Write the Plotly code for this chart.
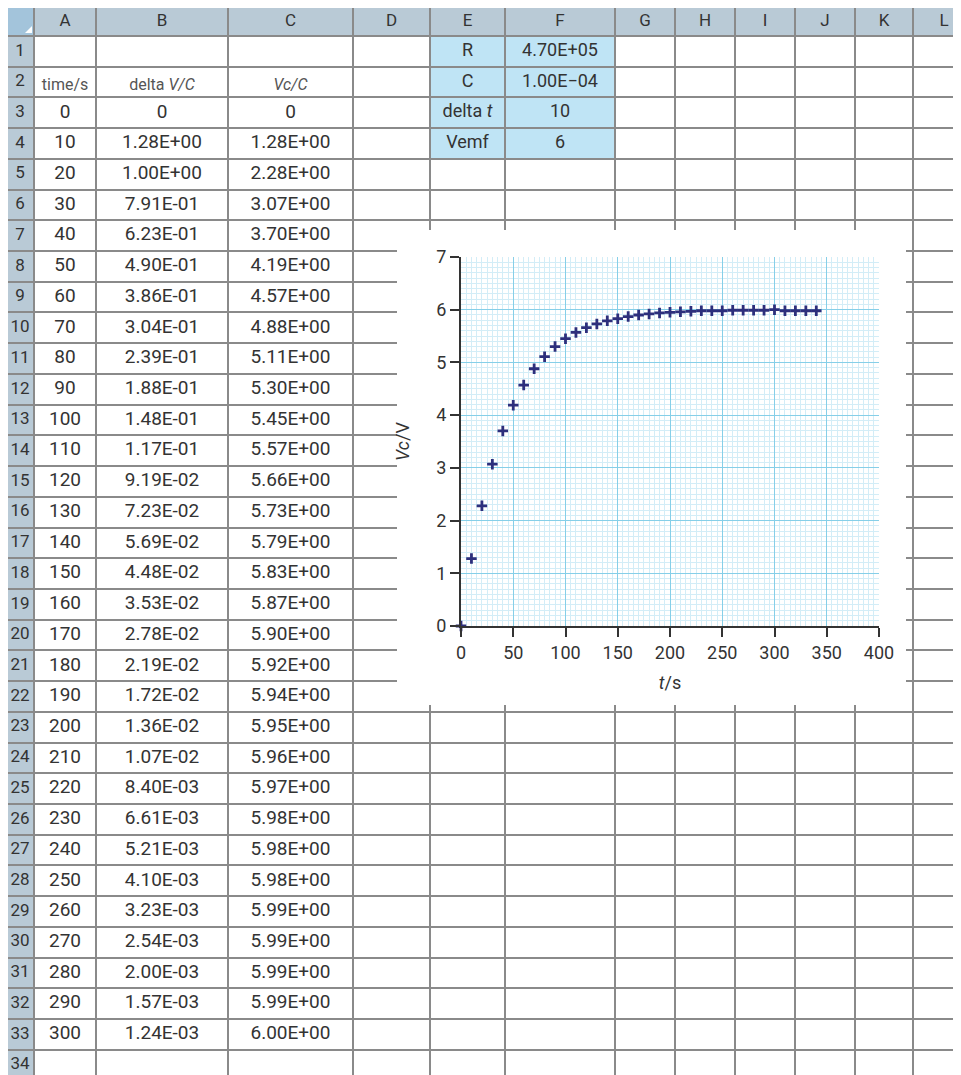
import plotly.graph_objects as go

# ---------------- data ----------------
col_letters = ["A", "B", "C", "D", "E", "F", "G", "H", "I", "J", "K", "L"]
header_labels = ["time/s", "delta <i>V/C</i>", "<i>Vc/C</i>"]

time_s = [0, 10, 20, 30, 40, 50, 60, 70, 80, 90, 100, 110, 120, 130, 140, 150,
          160, 170, 180, 190, 200, 210, 220, 230, 240, 250, 260, 270, 280, 290,
          300, 310, 320, 330, 340]
delta_v = [0, 1.28, 1.00, 0.791, 0.623, 0.490, 0.386, 0.304, 0.239, 0.188,
           0.148, 0.117, 0.0919, 0.0723, 0.0569, 0.0448, 0.0353, 0.0278,
           0.0219, 0.0172, 0.0136, 0.0107, 0.00840, 0.00661, 0.00521, 0.00410,
           0.00323, 0.00254, 0.00200, 0.00157, 0.00124]
vc = [0, 1.28, 2.28, 3.07, 3.70, 4.19, 4.57, 4.88, 5.11, 5.30, 5.45, 5.57,
      5.66, 5.73, 5.79, 5.83, 5.87, 5.90, 5.92, 5.94, 5.95, 5.96, 5.97, 5.98,
      5.98, 5.98, 5.99, 5.99, 5.99, 5.99, 6.00, 5.98, 5.98, 5.98, 5.98]
n_table_rows = 31          # rows 3..33 of the sheet show time 0..300

param_names = ["R", "C", "delta <i>t</i>", "Vemf"]
param_values = ["4.70E+05", "1.00E\u221204", "10", "6"]

# ---------------- geometry (layout, in window pixels) ----------------
WIN_W, WIN_H = 961, 1075
BODY = 8                              # page margin around the plot div
W, H = WIN_W - BODY, WIN_H - BODY     # figure size
SHEET_L, SHEET_T = BODY, BODY
col_edges = [SHEET_L, 34, 96, 228, 353, 430, 505, 615, 675, 735, 795, 855, 913, 975]
HDR_B = 36
ROW_H = 30.72
N_ROWS = 34
row_edges = [HDR_B + k * ROW_H for k in range(N_ROWS + 1)]

FONT = "Roboto"
GRID = "#8a8a8a"
HDR_FILL = "#b9cad6"
BLUE_FILL = "#bfe4f5"
TXT = "#333333"


def ccx(i):  # centre of sheet column i (0 = row-number column)
    return (col_edges[i] + col_edges[i + 1]) / 2


def rcy(r):  # centre of sheet row r (1-based)
    return HDR_B + (r - 0.5) * ROW_H


def fmt(v):
    return "0" if v == 0 else f"{v:.2E}"


def px_x(p):  # window x pixel -> paper fraction
    return (p - BODY) / W


def px_y(p):  # window y pixel -> paper fraction
    return 1 - (p - BODY) / H


fig = go.Figure()

# column letters
fig.add_trace(go.Scatter(
    x=[ccx(i + 1) for i in range(len(col_letters))],
    y=[(5 + HDR_B) / 2 + 1] * len(col_letters),
    text=col_letters, mode="text", textposition="middle center",
    textfont=dict(family=FONT, size=17, color=TXT),
    hoverinfo="skip", showlegend=False, xaxis="x", yaxis="y"))

# row numbers
rows = list(range(1, N_ROWS + 1))
fig.add_trace(go.Scatter(
    x=[ccx(0) - 1] * len(rows), y=[rcy(r) for r in rows],
    text=[str(r) for r in rows], mode="text", textposition="middle center",
    textfont=dict(family=FONT, size=17, color=TXT),
    hoverinfo="skip", showlegend=False, xaxis="x", yaxis="y"))

# header row 2
fig.add_trace(go.Scatter(
    x=[ccx(1), ccx(2), ccx(3)], y=[rcy(2) + 4] * 3,
    text=header_labels, mode="text", textposition="middle center",
    textfont=dict(family=FONT, size=16, color="#555555"),
    hoverinfo="skip", showlegend=False, xaxis="x", yaxis="y"))

# table body
tx, ty, tt = [], [], []
for k in range(n_table_rows):
    r = 3 + k
    tx += [ccx(1), ccx(2), ccx(3)]
    ty += [rcy(r)] * 3
    tt += [str(time_s[k]), fmt(delta_v[k]), fmt(vc[k])]
fig.add_trace(go.Scatter(
    x=tx, y=ty, text=tt, mode="text", textposition="middle center",
    textfont=dict(family=FONT, size=19, color=TXT),
    hoverinfo="skip", showlegend=False, xaxis="x", yaxis="y"))

# parameter block E1:F4
fig.add_trace(go.Scatter(
    x=[ccx(5)] * 4 + [ccx(6)] * 4,
    y=[rcy(r) for r in range(1, 5)] * 2,
    text=param_names + param_values, mode="text", textposition="middle center",
    textfont=dict(family=FONT, size=18, color=TXT),
    hoverinfo="skip", showlegend=False, xaxis="x", yaxis="y"))

# ---------------- chart ----------------
fig.add_trace(go.Scatter(
    x=time_s, y=vc, mode="markers", cliponaxis=False,
    marker=dict(symbol="cross-thin", size=7.5, color="#2d2f7c",
                line=dict(color="#2d2f7c", width=2.8)),
    hoverinfo="skip", showlegend=False, xaxis="x2", yaxis="y2"))

shapes = [
    # header row + row-number column fills (under the grid lines)
    dict(type="rect", xref="x", yref="y", layer="below", x0=0, x1=WIN_W + 20,
         y0=0, y1=HDR_B, fillcolor=HDR_FILL, line=dict(width=0)),
    dict(type="rect", xref="x", yref="y", layer="below", x0=0, x1=col_edges[1],
         y0=HDR_B, y1=WIN_H + 10, fillcolor=HDR_FILL, line=dict(width=0)),
    dict(type="rect", xref="x", yref="y", layer="below", x0=0, x1=col_edges[1],
         y0=0, y1=HDR_B, fillcolor="#a3c4db", line=dict(width=0)),
    dict(type="path", xref="x", yref="y", layer="below",
         path="M 25,33 L 32,33 L 32,26 Z", fillcolor="white", line=dict(width=0)),
    # blue parameter cells
    dict(type="rect", xref="x", yref="y", layer="below", x0=col_edges[5], x1=col_edges[7],
         y0=row_edges[0], y1=row_edges[4], fillcolor=BLUE_FILL, line=dict(width=0)),
    # white chart area covering the sheet grid
    dict(type="rect", xref="x", yref="y", layer="between", x0=397, x1=906,
         y0=230, y1=705, fillcolor="white", line=dict(width=0)),
]

# chart plot area (window pixels)
PX0, PX1, PY0, PY1 = 461, 879, 257, 626

fig.update_layout(
    width=W, height=H, margin=dict(l=0, r=0, t=0, b=0, pad=0, autoexpand=False),
    paper_bgcolor="white", plot_bgcolor="white",
    shapes=shapes,
    xaxis=dict(domain=[0, 1], range=[BODY, WIN_W], side="top",
               automargin=False, showline=False,
               tickmode="array", tickvals=col_edges[1:], showticklabels=False,
               ticks="", showgrid=True, gridcolor=GRID, gridwidth=1.5,
               zeroline=False, fixedrange=True),
    yaxis=dict(domain=[0, 1], range=[WIN_H, BODY],
               automargin=False, showline=False,
               tickmode="array", tickvals=row_edges, showticklabels=False,
               ticks="", showgrid=True, gridcolor=GRID, gridwidth=1.5,
               zeroline=False, fixedrange=True),
    xaxis2=dict(domain=[px_x(PX0), px_x(PX1)], anchor="y2", range=[0, 400],
                automargin=False,
                dtick=50, tick0=0, showline=True, linecolor="#333333", linewidth=2,
                ticks="outside", ticklen=9, tickwidth=1.5, tickcolor="#333333",
                tickfont=dict(family=FONT, size=18, color=TXT),
                showgrid=True, gridcolor="#86cfe8", gridwidth=1,
                minor=dict(dtick=5, showgrid=True, gridcolor="#d3edf7", gridwidth=1),
                zeroline=False,
                title=dict(text="<i>t</i>/s", standoff=15,
                           font=dict(family=FONT, size=18, color=TXT))),
    yaxis2=dict(domain=[px_y(PY1), px_y(PY0)], anchor="x2", range=[0, 7],
                automargin=False,
                dtick=1, tick0=0, showline=True, linecolor="#333333", linewidth=2,
                ticks="outside", ticklen=9, tickwidth=1.5, tickcolor="#333333",
                tickfont=dict(family=FONT, size=18, color=TXT),
                showgrid=True, gridcolor="#86cfe8", gridwidth=1,
                minor=dict(dtick=0.1, showgrid=True, gridcolor="#d3edf7", gridwidth=1),
                zeroline=False,
                title=dict(text="<i>Vc</i>/V", standoff=22,
                           font=dict(family=FONT, size=18, color=TXT))),
)

fig.write_html("out.html")
